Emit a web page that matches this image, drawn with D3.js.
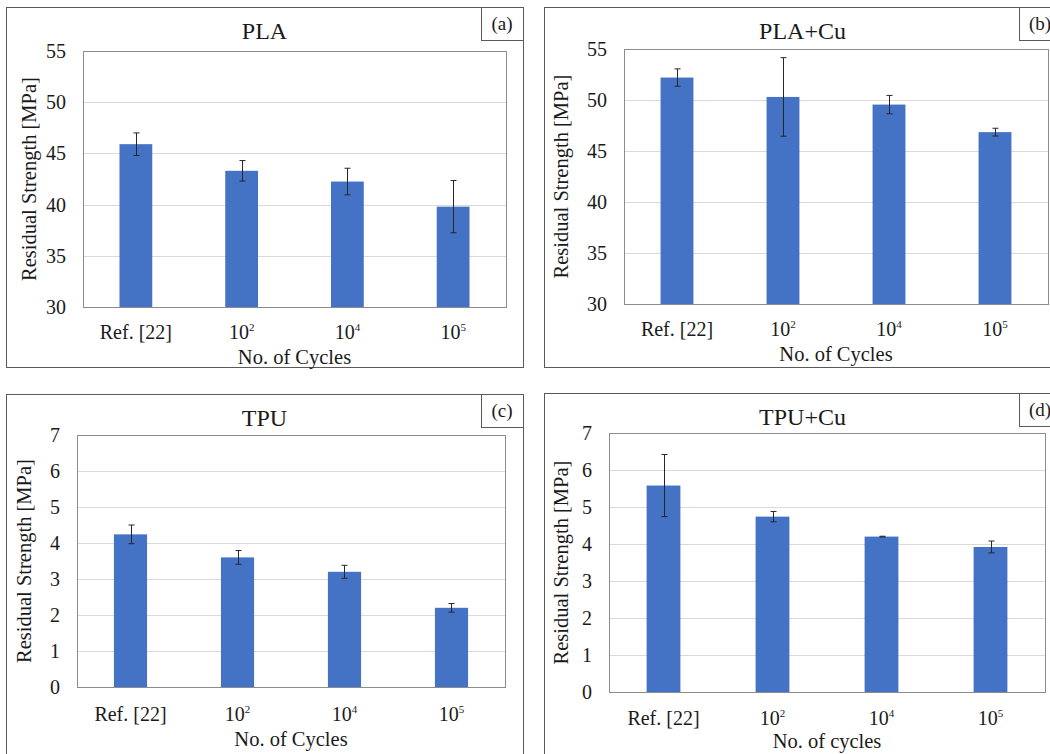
<!DOCTYPE html>
<html>
<head>
<meta charset="utf-8">
<script src="https://cdn.jsdelivr.net/npm/d3@7"></script>
<style>
  html, body { margin: 0; padding: 0; background: #fff; }
  svg { display: block; }
  text { font-family: "Liberation Serif", "Times New Roman", serif; fill: #1a1a1a; }
</style>
</head>
<body>
<svg id="chart" width="1050" height="754"></svg>
<script>
// Fatigue cycle groups (x axis); "^" marks a superscript exponent
const categories = ["Ref. [22]", "10^2", "10^4", "10^5"];

// Residual strength means and standard deviations [MPa]
const plaMean   = [45.9, 43.3, 42.25, 39.8];
const plaErr    = [1.1, 1.0, 1.3, 2.55];
const plaCuMean = [52.2, 50.3, 49.55, 46.85];
const plaCuErr  = [0.85, 3.85, 0.9, 0.38];
const tpuMean   = [4.24, 3.6, 3.2, 2.2];
const tpuErr    = [0.26, 0.19, 0.18, 0.12];
const tpuCuMean = [5.58, 4.74, 4.2, 3.92];
const tpuCuErr  = [0.84, 0.14, 0.01, 0.16];

// Y-axis tick values
const plaTicks = [30, 35, 40, 45, 50, 55];
const tpuTicks = [0, 1, 2, 3, 4, 5, 6, 7];

// Panel titles, tags and x-axis titles
const panelTitles = ["PLA", "PLA+Cu", "TPU", "TPU+Cu"];
const panelTags = ["(a)", "(b)", "(c)", "(d)"];
const xTitles = ["No. of Cycles", "No. of Cycles", "No. of Cycles", "No. of cycles"];
const yTitle = "Residual Strength [MPa]";

const BAR = "#4472C4";
const SERIF = '"Liberation Serif", "Times New Roman", serif';

// Panel geometry
const layouts = [
  { box: [6, 7, 517, 360],   plot: [83, 51, 506, 307],   yTitleX: 36,  xTickDy: 32, xTitleDy: 57 },
  { box: [544, 7, 517, 360], plot: [624, 49, 1048, 304], yTitleX: 568, xTickDy: 32, xTitleDy: 57 },
  { box: [6, 394, 517, 380], plot: [77, 435, 505, 687],  yTitleX: 31,  xTickDy: 34, xTitleDy: 59 },
  { box: [544, 393, 517, 380], plot: [609, 433, 1045, 692], yTitleX: 568, xTickDy: 33, xTitleDy: 56 }
];

const panels = [
  { mean: plaMean,   err: plaErr,   ticks: plaTicks },
  { mean: plaCuMean, err: plaCuErr, ticks: plaTicks },
  { mean: tpuMean,   err: tpuErr,   ticks: tpuTicks },
  { mean: tpuCuMean, err: tpuCuErr, ticks: tpuTicks }
];

const svg = d3.select("#chart");

function writeLabel(sel, label) {
  const parts = label.split("^");
  sel.append("tspan").text(parts[0]);
  if (parts.length > 1) {
    sel.append("tspan").attr("dy", -8).attr("font-size", 11).text(parts[1]);
  }
}

panels.forEach((p, i) => {
  const L = layouts[i];
  const [bx, by, bw, bh] = L.box;
  const [pl, pt, pr, pb] = L.plot;
  const g = svg.append("g");

  // outer frame
  g.append("rect").attr("x", bx + 0.5).attr("y", by + 0.5).attr("width", bw).attr("height", bh)
    .attr("fill", "#fff").attr("stroke", "#5a5a5a").attr("stroke-width", 1);

  // tag box in top-right corner
  g.append("rect").attr("x", bx + bw - 42 + 0.5).attr("y", by + 0.5).attr("width", 42).attr("height", 33)
    .attr("fill", "#fff").attr("stroke", "#5a5a5a").attr("stroke-width", 1);
  g.append("text").attr("x", bx + bw - 21).attr("y", by + 23)
    .attr("text-anchor", "middle").attr("font-size", 19).text(panelTags[i]);

  const x = d3.scaleBand().domain(categories).range([pl, pr])
    .paddingInner(0.69).paddingOuter(0.345);
  const y = d3.scaleLinear().domain(d3.extent(p.ticks)).range([pb, pt]);

  // gridlines
  g.append("g").selectAll("line").data(p.ticks.slice(1, -1)).join("line")
    .attr("x1", pl).attr("x2", pr)
    .attr("y1", d => Math.round(y(d)) + 0.5).attr("y2", d => Math.round(y(d)) + 0.5)
    .attr("stroke", "#d9d9d9").attr("stroke-width", 1);

  // bars
  g.append("g").selectAll("rect").data(categories).join("rect")
    .attr("x", d => x(d)).attr("width", x.bandwidth())
    .attr("y", (d, k) => y(p.mean[k])).attr("height", (d, k) => pb - y(p.mean[k]))
    .attr("fill", BAR);

  // error bars
  const eb = g.append("g").attr("stroke", "#262626").attr("stroke-width", 1);
  categories.forEach((c, k) => {
    const cx = Math.round(x(c) + x.bandwidth() / 2) + 0.5;
    const hi = y(p.mean[k] + p.err[k]), lo = y(p.mean[k] - p.err[k]);
    eb.append("line").attr("x1", cx).attr("x2", cx).attr("y1", hi).attr("y2", lo);
    eb.append("line").attr("x1", cx - 3).attr("x2", cx + 3).attr("y1", hi).attr("y2", hi);
    eb.append("line").attr("x1", cx - 3).attr("x2", cx + 3).attr("y1", lo).attr("y2", lo);
  });

  // plot-area border
  g.append("rect").attr("x", pl + 0.5).attr("y", pt + 0.5).attr("width", pr - pl).attr("height", pb - pt)
    .attr("fill", "none").attr("stroke", "#8c8c8c").attr("stroke-width", 1);

  // y axis tick labels
  const yAxis = d3.axisLeft(y).tickValues(p.ticks).tickFormat(d3.format("d")).tickSize(0).tickPadding(17);
  const ya = g.append("g").attr("transform", `translate(${pl},0)`).call(yAxis)
    .attr("font-family", SERIF).attr("font-size", 20);
  ya.select(".domain").remove();
  ya.selectAll("text").style("font-family", SERIF).attr("font-size", 20).attr("fill", "#1a1a1a");

  // x tick labels
  g.append("g").selectAll("text").data(categories).join("text")
    .attr("x", d => x(d) + x.bandwidth() / 2).attr("y", pb + L.xTickDy)
    .attr("text-anchor", "middle").attr("font-size", 20)
    .each(function (d) { writeLabel(d3.select(this), d); });

  // titles
  g.append("text").attr("x", bx + bw / 2).attr("y", by + 32)
    .attr("text-anchor", "middle").attr("font-size", 24).text(panelTitles[i]);
  g.append("text").attr("x", (pl + pr) / 2).attr("y", pb + L.xTitleDy)
    .attr("text-anchor", "middle").attr("font-size", 20.5).text(xTitles[i]);
  g.append("text").attr("transform", `translate(${L.yTitleX},${(pt + pb) / 2}) rotate(-90)`)
    .attr("text-anchor", "middle").attr("font-size", 20.5).text(yTitle);
});
</script>
</body>
</html>
